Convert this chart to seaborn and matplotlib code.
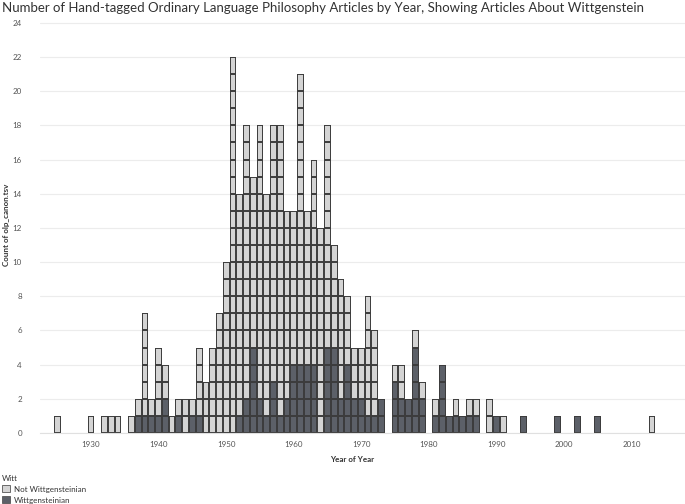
import numpy as np
import pandas as pd
import matplotlib
matplotlib.use("Agg")
import matplotlib.pyplot as plt
import seaborn as sns
import seaborn.objects as so
from matplotlib.patches import Patch

# ---- data ----
years = [1925, 1930, 1932, 1933, 1934, 1936, 1937, 1938, 1939, 1940,
         1941, 1942, 1943, 1944, 1945, 1946, 1947, 1948, 1949, 1950,
         1951, 1952, 1953, 1954, 1955, 1956, 1957, 1958, 1959, 1960,
         1961, 1962, 1963, 1964, 1965, 1966, 1967, 1968, 1969, 1970,
         1971, 1972, 1973, 1975, 1976, 1977, 1978, 1979, 1981, 1982,
         1983, 1984, 1985, 1986, 1987, 1989, 1990, 1991, 1994, 1999,
         2002, 2005, 2013]
wittgensteinian = [0, 0, 0, 0, 0, 0, 1, 1, 1, 1,
                   2, 0, 1, 0, 1, 1, 0, 0, 0, 0,
                   0, 1, 2, 5, 2, 1, 3, 1, 2, 4,
                   4, 4, 4, 0, 5, 5, 2, 4, 2, 2,
                   1, 1, 2, 3, 2, 2, 5, 2, 1, 4,
                   1, 1, 1, 1, 1, 0, 1, 0, 1, 1,
                   1, 1, 0]
not_wittgensteinian = [1, 1, 1, 1, 1, 1, 1, 6, 1, 4,
                       2, 1, 1, 2, 1, 4, 3, 5, 7, 10,
                       22, 13, 16, 10, 16, 13, 15, 17, 11, 9,
                       17, 9, 12, 12, 13, 6, 7, 4, 3, 3,
                       7, 5, 0, 1, 2, 0, 1, 1, 1, 0,
                       0, 1, 0, 1, 1, 2, 0, 1, 0, 0,
                       0, 0, 1]
categories = ["Not Wittgensteinian", "Wittgensteinian"]
x_ticks = [1930, 1940, 1950, 1960, 1970, 1980, 1990, 2000, 2010]
y_ticks = list(range(0, 25, 2))

# one row per article; Wittgensteinian articles first so they stack at the bottom
rows = []
for y, w, n in zip(years, wittgensteinian, not_wittgensteinian):
    rows += [{"year": y, "n": 1, "Witt": categories[1]}] * w
    rows += [{"year": y, "n": 1, "Witt": categories[0]}] * n
df = pd.DataFrame(rows)

colors = {categories[0]: "#d4d4d4", categories[1]: "#5c6068"}
edge = "#3c3c3c"

sns.set_theme(style="white")
plt.rcParams["font.family"] = ["Lato", "DejaVu Sans"]

W, H = 685, 504
fig = plt.figure(figsize=(W / 100, H / 100), dpi=100)
ax = fig.add_axes([40 / W, 71 / H, 645 / W, 417 / H])

(
    so.Plot(df, x="year", y="n", color="Witt")
    .add(so.Bar(width=1, alpha=1, edgecolor=edge, edgewidth=0.7), so.Stack(), legend=False)
    .scale(color=colors)
    .on(ax)
    .plot()
)

ax.set_facecolor("white")
ax.set_xlim(1922.45, 2017.9)
ax.set_ylim(0, 24.4)
ax.set_xticks(x_ticks)
ax.set_xticklabels([str(t) for t in x_ticks])
ax.set_yticks(y_ticks)
ax.set_yticklabels([str(t) for t in y_ticks])
ax.grid(axis="y", color="#ececec", linewidth=0.8)
ax.grid(axis="x", visible=False)
ax.set_axisbelow(True)
for s in ["top", "right", "left"]:
    ax.spines[s].set_visible(False)
ax.spines["bottom"].set_color("#e0e0e0")
ax.spines["bottom"].set_linewidth(0.8)
ax.tick_params(axis="y", length=0, pad=13, labelsize=5.8, labelcolor="#555555")
ax.tick_params(axis="x", length=3, width=0.6, color="#d8d8d8", pad=3,
               labelsize=5.8, labelcolor="#555555")
ax.set_xlabel("Year of Year", fontsize=5.8, fontweight="bold", color="#333333")
ax.set_ylabel("Count of olp_canon.tsv", fontsize=5.8, fontweight="bold", color="#333333")
ax.xaxis.set_label_coords((352 - 40) / 645, -(459 - 433) / 417)
ax.yaxis.set_label_coords(-(40 - 7) / 645, 0.5)
ax.xaxis.label.set_va("center")
ax.yaxis.label.set_va("center")

title = ("Number of Hand-tagged Ordinary Language Philosophy Articles by Year, "
         "Showing Articles About Wittgenstein")
t = fig.text(2 / W, 1 - 8 / H, title, ha="left", va="center", fontsize=10,
             color="#333333")
fig.canvas.draw()
bb = t.get_window_extent()
t.set_fontsize(10 * (643 / bb.width))

handles = [Patch(facecolor=colors[c], edgecolor="#555555", linewidth=0.6) for c in categories]
leg = fig.legend(handles, categories, title="Witt", loc="upper left",
                 bbox_to_anchor=(0, 1 - 473 / H), frameon=False,
                 fontsize=5.8, title_fontsize=5.8, handlelength=1.0,
                 handleheight=1.0, handletextpad=0.5, labelspacing=0.45,
                 borderaxespad=0, borderpad=0.2)
leg._legend_box.align = "left"
for txt in leg.get_texts():
    txt.set_color("#333333")
leg.get_title().set_color("#333333")

fig.savefig("out.png", dpi=100)
